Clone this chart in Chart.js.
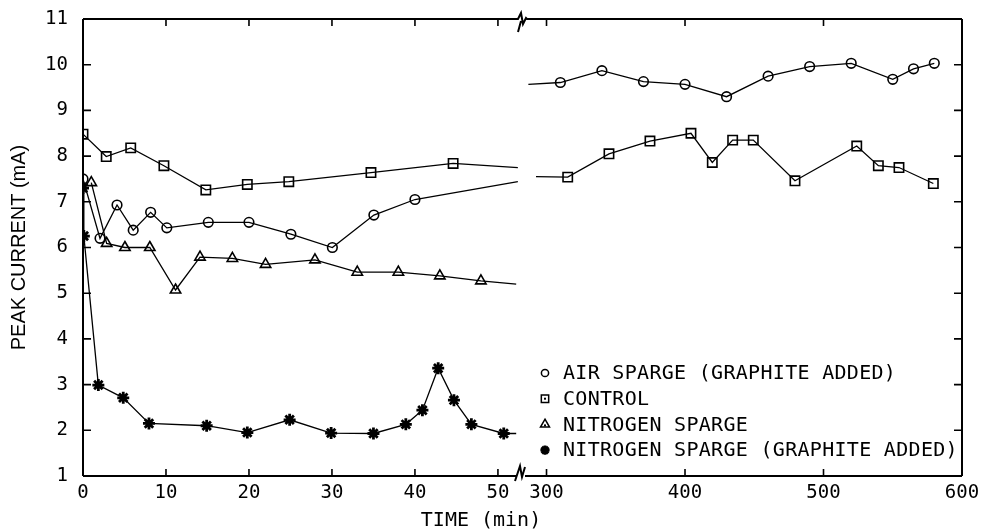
<!DOCTYPE html>
<html><head><meta charset="utf-8">
<script src="https://cdn.jsdelivr.net/npm/chart.js@4/dist/chart.umd.min.js"></script>
<style>html,body{margin:0;padding:0;background:#fff}#wrap{width:981px;height:529px}</style>
</head><body><div id="wrap"><canvas id="c" width="981" height="529"></canvas></div>
<script>
// ---- series labels ----
const seriesLabels = ['AIR SPARGE (GRAPHITE ADDED)', 'CONTROL', 'NITROGEN SPARGE', 'NITROGEN SPARGE (GRAPHITE ADDED)'];

// ---- axis ticks / ranges ----
const yTicksMin = 1, yTicksMax = 11, yStep = 1;
const xLeftMin = 0, xLeftMax = 52.9, xLeftStep = 10;
const xRightMin = 282.3, xRightMax = 600, xRightStep = 100;

// ---- AIR SPARGE (GRAPHITE ADDED) ----  (last left point / first right point are unmarked line ends)
const airLeftTime  = [0, 2.05, 4.1, 6.05, 8.15, 10.1, 15.1, 20, 25.05, 30.05, 35.05, 40, 52.4];
const airLeftPeak  = [7.5, 6.2, 6.93, 6.38, 6.77, 6.43, 6.55, 6.55, 6.29, 6.0, 6.71, 7.05, 7.44];
const airRightTime = [286.9, 310, 340, 370, 400, 430, 460, 490, 520, 550, 565, 580];
const airRightPeak = [9.57, 9.61, 9.87, 9.63, 9.57, 9.30, 9.75, 9.96, 10.03, 9.68, 9.91, 10.03];

// ---- CONTROL ----
const ctlLeftTime  = [0, 2.8, 5.75, 9.75, 14.8, 19.8, 24.8, 34.7, 44.6, 52.4];
const ctlLeftPeak  = [8.48, 7.99, 8.18, 7.79, 7.26, 7.38, 7.44, 7.64, 7.84, 7.75];
const ctlRightTime = [292.4, 315.3, 345.1, 374.7, 404.3, 419.7, 434.4, 449.3, 479.4, 524, 539.6, 554.5, 579.3];
const ctlRightPeak = [7.55, 7.54, 8.05, 8.33, 8.50, 7.86, 8.35, 8.35, 7.46, 8.22, 7.79, 7.75, 7.40];

// ---- NITROGEN SPARGE ----
const n2Time = [1.0, 2.85, 5.05, 8.05, 11.15, 14.1, 18.0, 22.0, 27.95, 33.05, 38.0, 43.0, 47.95, 52.2];
const n2Peak = [7.42, 6.09, 6.0, 6.0, 5.07, 5.79, 5.76, 5.63, 5.73, 5.46, 5.46, 5.38, 5.27, 5.20];

// ---- NITROGEN SPARGE (GRAPHITE ADDED) ----
const n2gTime = [0, 0.1, 1.85, 4.85, 7.95, 14.9, 19.8, 24.9, 29.9, 35.0, 38.9, 40.9, 42.8, 44.7, 46.8, 50.7, 52.2];
const n2gPeak = [7.3, 6.25, 2.99, 2.71, 2.15, 2.10, 1.95, 2.23, 1.94, 1.93, 2.13, 2.44, 3.36, 2.66, 2.13, 1.93, 1.93];

function pts(ts, vs) { return ts.map((t, i) => ({x: t, y: vs[i]})); }
function radii(n, r, noMarkIdx) { return Array.from({length: n}, (_, i) => i === noMarkIdx ? 0 : r); }

const MONO = "'DejaVu Sans Mono', monospace";
Chart.defaults.font.family = MONO;
Chart.defaults.color = '#000';

function ds(label, xAxisID, ts, vs, style, r, bw, noMarkIdx, legend) {
  return {
    label, xAxisID, yAxisID: 'y',
    data: pts(ts, vs),
    borderColor: '#000', borderWidth: 1.3,
    backgroundColor: 'rgba(0,0,0,0)',
    pointStyle: style,
    pointRadius: radii(ts.length, r, noMarkIdx),
    pointBorderWidth: bw,
    pointBorderColor: '#000',
    pointBackgroundColor: style === 'star' ? '#000' : 'rgba(0,0,0,0)',
    tension: 0, fill: false,
    showInLegend: legend
  };
}

const datasets = [
  ds(seriesLabels[0], 'x1', airLeftTime, airLeftPeak, 'circle', 4.8, 1.6, airLeftTime.length - 1, true),
  ds(seriesLabels[0], 'x2', airRightTime, airRightPeak, 'circle', 4.8, 1.6, 0, false),
  ds(seriesLabels[1], 'x1', ctlLeftTime, ctlLeftPeak, 'rect', 6.6, 1.6, ctlLeftTime.length - 1, true),
  ds(seriesLabels[1], 'x2', ctlRightTime, ctlRightPeak, 'rect', 6.6, 1.6, 0, false),
  ds(seriesLabels[2], 'x1', n2Time, n2Peak, 'triangle', 6, 1.6, n2Time.length - 1, true),
  ds(seriesLabels[3], 'x1', n2gTime, n2gPeak, 'star', 6, 2.8, n2gTime.length - 1, true)
];

const framePlugin = {
  id: 'frame',
  afterDatasetsDraw(chart) {
    const {ctx, chartArea: a, scales} = chart;
    const brk = scales.x1.right;
    ctx.save();
    ctx.strokeStyle = '#000';
    ctx.lineWidth = 2;
    ctx.lineCap = 'butt';
    ctx.beginPath();
    ctx.moveTo(a.left, a.top); ctx.lineTo(a.left, a.bottom);
    ctx.moveTo(a.right, a.top); ctx.lineTo(a.right, a.bottom);
    // top border with break mark
    ctx.moveTo(a.left, a.top); ctx.lineTo(brk - 4, a.top);
    ctx.lineTo(brk - 1, a.top - 6); ctx.lineTo(brk + 1, a.top + 5); ctx.lineTo(brk + 4, a.top - 1);
    ctx.lineTo(brk + 5, a.top); ctx.lineTo(a.right, a.top);
    ctx.moveTo(brk - 1, a.top + 2); ctx.lineTo(brk - 4, a.top + 13);
    // bottom border with break mark
    ctx.moveTo(a.left, a.bottom); ctx.lineTo(brk - 5, a.bottom);
    ctx.moveTo(brk - 7, a.bottom + 5); ctx.lineTo(brk - 2, a.bottom - 10); ctx.lineTo(brk, a.bottom + 1);
    ctx.lineTo(brk + 3, a.bottom - 9);
    ctx.moveTo(brk + 3, a.bottom); ctx.lineTo(a.right, a.bottom);
    ctx.stroke();
    // inward ticks
    ctx.lineWidth = 1.6;
    ctx.beginPath();
    scales.y.ticks.forEach(t => {
      if (t.value <= yTicksMin || t.value >= yTicksMax) return;
      const y = scales.y.getPixelForValue(t.value);
      ctx.moveTo(a.left, y); ctx.lineTo(a.left + 8, y);
      ctx.moveTo(a.right - 8, y); ctx.lineTo(a.right, y);
    });
    ['x1', 'x2'].forEach(id => {
      const s = scales[id];
      s.ticks.forEach(t => {
        const x = s.getPixelForValue(t.value);
        if (Math.abs(x - a.left) < 2 || Math.abs(x - a.right) < 2) return;
        ctx.moveTo(x, a.top); ctx.lineTo(x, a.top + 7);
        ctx.moveTo(x, a.bottom); ctx.lineTo(x, a.bottom - 7);
      });
    });
    ctx.stroke();

    // legend inside plot
    const items = chart.data.datasets.filter(d => d.showInLegend);
    const lx = 545, tx = 563, y0 = 373, dy = 25.7;
    ctx.font = '20px ' + MONO;
    ctx.fillStyle = '#000';
    ctx.textBaseline = 'middle';
    ctx.textAlign = 'left';
    try { ctx.letterSpacing = '0.3px'; } catch (e) {}
    items.forEach((d, i) => {
      const y = y0 + i * dy;
      const small = {circle: 3.6, rect: 5.2, triangle: 5.2, star: 4.6}[d.pointStyle];
      ctx.lineWidth = d.pointStyle === 'star' ? 3 : 1.5;
      ctx.strokeStyle = '#000';
      ctx.fillStyle = d.pointStyle === 'star' ? '#000' : 'rgba(0,0,0,0)';
      Chart.helpers.drawPoint(ctx, {pointStyle: d.pointStyle, radius: small, borderWidth: ctx.lineWidth, rotation: 0}, lx, y);
      if (d.pointStyle === 'rect' || d.pointStyle === 'triangle') {
        ctx.fillStyle = '#000';
        ctx.fillRect(lx - 1, y - (d.pointStyle === 'triangle' ? 0 : 1), 2, 2);
      }
      ctx.fillStyle = '#000';
      ctx.fillText(d.label, tx, y + 1);
    });
    try { ctx.letterSpacing = '0px'; } catch (e) {}
    ctx.restore();
  }
};

const xTickFont = {family: MONO, size: 19};
function fitX(s) { s.height = 37; s.paddingLeft = 0; s.paddingRight = 0; }

new Chart(document.getElementById('c'), {
  type: 'line',
  data: {datasets},
  options: {
    responsive: false,
    animation: false,
    devicePixelRatio: 1,
    layout: {padding: {top: 19, right: 19, left: 0, bottom: 0}},
    plugins: {
      legend: {display: false},
      tooltip: {enabled: false},
      title: {
        display: true, text: 'TIME (min)', position: 'bottom', color: '#000',
        font: {family: MONO, size: 20, weight: 'normal', lineHeight: 0.8},
        padding: {top: 0, bottom: 0}
      }
    },
    scales: {
      x1: {
        type: 'linear', position: 'bottom', stack: 'time', stackWeight: 439,
        min: xLeftMin, max: xLeftMax,
        grid: {display: false, drawTicks: false, tickLength: 0}, border: {display: false},
        ticks: {stepSize: xLeftStep, includeBounds: false, font: xTickFont, color: '#000', padding: 6, maxRotation: 0, autoSkip: false},
        afterFit: fitX
      },
      x2: {
        type: 'linear', position: 'bottom', stack: 'time', stackWeight: 440,
        min: xRightMin, max: xRightMax,
        grid: {display: false, drawTicks: false, tickLength: 0}, border: {display: false},
        ticks: {stepSize: xRightStep, includeBounds: false, font: xTickFont, color: '#000', padding: 6, maxRotation: 0, autoSkip: false},
        afterFit: fitX
      },
      y: {
        type: 'linear', position: 'left',
        min: yTicksMin, max: yTicksMax,
        grid: {display: false, drawTicks: false, tickLength: 0}, border: {display: false},
        ticks: {stepSize: yStep, font: xTickFont, color: '#000', padding: 15},
        title: {
          display: true, text: 'PEAK CURRENT (mA)', color: '#000',
          font: {family: "'Liberation Sans', Arial, sans-serif", size: 20},
          padding: {top: 7, bottom: 0}
        },
        afterFit: s => { s.width = 83; s.paddingTop = 0; s.paddingBottom = 0; }
      }
    }
  },
  plugins: [framePlugin]
});
</script>
</body></html>
